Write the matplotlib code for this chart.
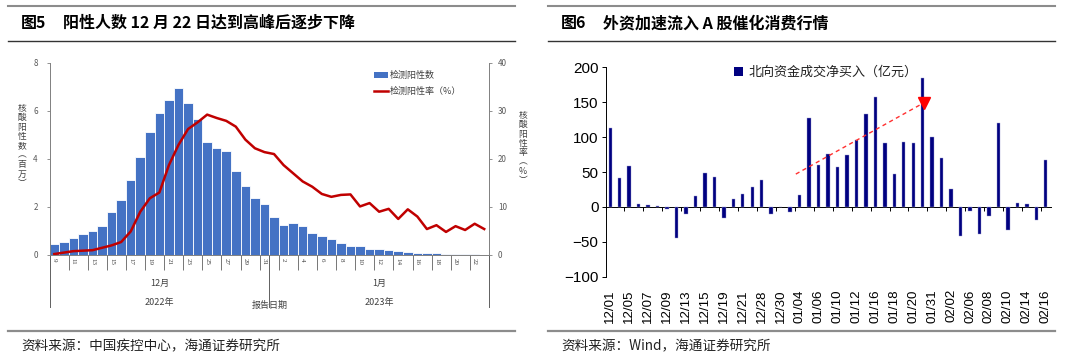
import matplotlib
matplotlib.use("Agg")
import matplotlib.pyplot as plt
import matplotlib.transforms as mtransforms
from matplotlib.lines import Line2D
from matplotlib.patches import Patch
import numpy as np

plt.rcParams['font.family'] = ['Noto Sans CJK SC', 'DejaVu Sans']

# ---------------- Data: left chart (图5) ----------------
dec_days = list(range(9, 32))          # 12/09 .. 12/31
jan_days = list(range(1, 24))          # 01/01 .. 01/23
positives = [0.44, 0.53, 0.72, 0.88, 1.00, 1.19, 1.78, 2.28, 3.10, 4.06, 5.10, 5.90,
             6.43, 6.96, 6.32, 5.67, 4.72, 4.44, 4.32, 3.49, 2.89, 2.39, 2.13,
             1.57, 1.25, 1.32, 1.21, 0.93, 0.81, 0.65, 0.49, 0.38, 0.36, 0.26, 0.24,
             0.19, 0.15, 0.11, 0.10, 0.10, 0.07, 0.06, 0.05, 0.04, 0.03, 0.02]
pos_rate = [0.2, 0.5, 0.8, 0.9, 1.0, 1.5, 2.0, 2.7, 4.9, 9.0, 11.8, 13.0,
            18.7, 22.9, 26.2, 27.6, 29.2, 28.5, 27.9, 26.7, 24.0, 22.2, 21.4,
            21.0, 18.7, 17.0, 15.3, 14.2, 12.7, 12.1, 12.5, 12.6, 10.1, 10.8, 9.0,
            9.6, 7.5, 9.5, 8.0, 5.4, 6.2, 4.8, 6.0, 5.2, 6.5, 5.4]
left_tick_labels = [str(d) for d in dec_days + jan_days]
month_labels = ["12月", "1月"]
year_labels = ["2022年", "2023年"]

# ---------------- Data: right chart (图6) ----------------
trade_dates = ["12/01", "12/02", "12/05", "12/06", "12/07", "12/08", "12/09", "12/12",
               "12/13", "12/14", "12/15", "12/16", "12/19", "12/20", "12/21", "12/22",
               "12/28", "12/29", "12/30", "01/03", "01/04", "01/05", "01/06", "01/09",
               "01/10", "01/11", "01/12", "01/13", "01/16", "01/17", "01/18", "01/19",
               "01/20", "01/30", "01/31", "02/01", "02/02", "02/03", "02/06", "02/07",
               "02/08", "02/09", "02/10", "02/13", "02/14", "02/15", "02/16"]
north_flow = [113.4, 40.7, 58.4, 4.8, 2.4, 1.0, -2.9, -44.0, -9.6, 15.8, 48.8, 43.0,
              -15.3, 11.5, 18.2, 27.8, 38.3, -10.5, 0.5, -6.7, 17.7, 126.8, 59.8, 76.0,
              57.4, 75.0, 95.7, 132.5, 157.4, 91.9, 46.9, 93.3, 91.9, 185.2, 100.5, 69.4,
              25.8, -42.1, -5.7, -38.8, -13.4, 120.1, -33.5, 5.7, 4.8, -19.1, 67.5]
trend_start = (19.6, 47.0)   # (category position, value)
trend_end = (33.1, 149.0)

# ---------------- Figure ----------------
W, H = 1080, 360
fig = plt.figure(figsize=(W / 100, H / 100), dpi=100)

def fx(px):
    return px / W

def fy(py):
    return 1 - py / H

# header / footer rules and titles
panels = [(8, 515, "图5", "阳性人数 12 月 22 日达到高峰后逐步下降",
           "资料来源：中国疾控中心，海通证券研究所"),
          (548, 1055, "图6", "外资加速流入 A 股催化消费行情",
           "资料来源：Wind，海通证券研究所")]
for x0, x1, fig_no, title, src in panels:
    fig.add_artist(Line2D([fx(x0), fx(x1)], [fy(5.7), fy(5.7)], color='#8c8c8c', lw=1.5))
    fig.add_artist(Line2D([fx(x0), fx(x1)], [fy(40.7), fy(40.7)], color='#333333', lw=1.0))
    fig.add_artist(Line2D([fx(x0), fx(x1)], [fy(331), fy(331)], color='#8c8c8c', lw=1.6))
    fig.text(fx(x0 + 13), fy(23), fig_no, fontsize=11.5, fontweight='bold',
             ha='left', va='center', color='black')
    fig.text(fx(x0 + 55), fy(23), title, fontsize=11.5, fontweight='bold',
             ha='left', va='center', color='black')
    fig.text(fx(x0 + 13), fy(346), src, fontsize=9.8, ha='left', va='center',
             color='#222222')

# ---------------- Left chart ----------------
axL = fig.add_axes([fx(49.5), fy(255), fx(489 - 49.5), (255 - 62.7) / H])
n = len(positives)
x = np.arange(n)
bars = axL.bar(x, positives, width=1.0, color='#4472C4', edgecolor='white', linewidth=0.6)
axL.set_xlim(-0.5, n - 0.5)
axL.set_ylim(0, 8)
axL.set_yticks([0, 2, 4, 6, 8])
axL.tick_params(axis='y', labelsize=5.8, labelcolor='#595959', length=2.5,
                width=0.6, color='#808080', pad=6)
axL.set_xticks(x[::2])
axL.set_xticklabels(left_tick_labels[::2], rotation=-90, fontsize=5.0,
                    color='#404040', fontfamily=['Liberation Serif', 'DejaVu Sans'])
axL.tick_params(axis='x', which='major', length=0, pad=2)
axL.set_xticks(np.arange(-0.5, n, 2)[1:], minor=True)
axL.tick_params(axis='x', which='minor', length=11, width=0.6, color='#606060')
for s in ['top', 'right']:
    axL.spines[s].set_visible(False)
axL.spines['left'].set_color('#808080')
axL.spines['bottom'].set_color('#808080')
axL.spines['left'].set_linewidth(0.7)
axL.spines['bottom'].set_linewidth(0.7)

axR = axL.twinx()
line, = axR.plot(x, pos_rate, color='#C00000', lw=1.8)
axR.set_ylim(0, 40)
axR.set_yticks([0, 10, 20, 30, 40])
axR.tick_params(axis='y', labelsize=5.8, labelcolor='#595959', length=2.5,
                width=0.6, color='#808080', pad=4)
for s in ['top', 'left', 'bottom']:
    axR.spines[s].set_visible(False)
axR.spines['right'].set_color('#808080')
axR.spines['right'].set_linewidth(0.7)

# multi-level category axis separators
trans = mtransforms.blended_transform_factory(axL.transData, axL.transAxes)
n_dec = len(dec_days)
low = -(307 - 255) / (255 - 62.7)
for b in [-0.5, n_dec - 0.5, n - 0.5]:
    axL.plot([b, b], [0, low], transform=trans, color='#606060', lw=0.7, clip_on=False)
month_centers = [(n_dec - 1) / 2, n_dec + (n - n_dec - 1) / 2]
for c, m, yl in zip(month_centers, month_labels, year_labels):
    axL.text(c, -(283 - 255) / 192.3, m, transform=trans, ha='center', va='center',
             fontsize=6.5, color='#404040')
    axL.text(c, -(302 - 255) / 192.3, yl, transform=trans, ha='center', va='center',
             fontsize=6.5, color='#404040')
axL.text(0.5, -(305 - 255) / 192.3, "报告日期", transform=axL.transAxes,
         ha='center', va='center', fontsize=6.5, color='#404040')

fig.text(fx(22), fy(146), "\n".join("核酸阳性数︵百万︶"), fontsize=6.3,
         ha='center', va='center', linespacing=1.05, color='#404040')
fig.text(fx(523), fy(148), "\n".join("核酸阳性率︵%︶"), fontsize=6.3,
         ha='center', va='center', linespacing=1.05, color='#404040')

fig.legend([Patch(facecolor='#4472C4'), Line2D([], [], color='#C00000', lw=1.8)],
           ["检测阳性数", "检测阳性率（%）"], loc='upper left',
           bbox_to_anchor=(fx(366), fy(63)), frameon=False, fontsize=6.5,
           handlelength=1.5, handleheight=0.6, handletextpad=0.2, labelspacing=0.75,
           labelcolor='#404040')

# ---------------- Right chart ----------------
ax2 = fig.add_axes([fx(605.5), fy(276.7), fx(1050.5 - 605.5), (276.7 - 67.3) / H])
m = len(north_flow)
x2 = np.arange(m)
b2 = ax2.bar(x2, north_flow, width=0.36, color='#000080', edgecolor='#9a9ad0',
             linewidth=0.3)
ymin, ymax = -100, 200
ax2.set_xlim(-0.5, m - 0.5)
ax2.set_ylim(ymin, ymax)
ax2.set_yticks(np.arange(ymin, ymax + 1, 50))
ax2.tick_params(axis='y', labelsize=11, length=3, width=0.7, pad=2,
                labelcolor='black')
for lab in ax2.get_yticklabels():
    lab.set_fontfamily(['Liberation Sans', 'DejaVu Sans'])
ax2.set_xticks(x2[::2])
ax2.set_xticklabels(trade_dates[::2], rotation=90, fontsize=9.6,
                    fontfamily=['Liberation Sans', 'DejaVu Sans'])
ax2.tick_params(axis='x', length=0, pad=9)
for s in ['top', 'right', 'bottom']:
    ax2.spines[s].set_visible(False)
ax2.spines['left'].set_linewidth(0.7)

zero_loc = (0 - ymin) / (ymax - ymin)
sec = ax2.secondary_xaxis(zero_loc)
sec.set_xticks(np.arange(-0.5, m, 2))
sec.set_xticklabels([])
sec.tick_params(axis='x', length=3, width=0.7, direction='out')
sec.spines['bottom'].set_linewidth(0.7)

ax2.plot([trend_start[0], trend_end[0]], [trend_start[1], trend_end[1]],
         color='#FF3030', lw=1.0, ls=(0, (3, 2.5)))
ax2.plot([trend_end[0]], [trend_end[1]], marker='v', color='#FF0000',
         markersize=8, ls='none')

fig.legend([Patch(facecolor='#000080')], ["北向资金成交净买入（亿元）"],
           loc='upper left', bbox_to_anchor=(fx(722), fy(54)), frameon=False,
           fontsize=9.4, handlelength=0.7, handleheight=0.7, handletextpad=0.4,
           labelcolor='#222222')

fig.savefig("out.png", dpi=100)
